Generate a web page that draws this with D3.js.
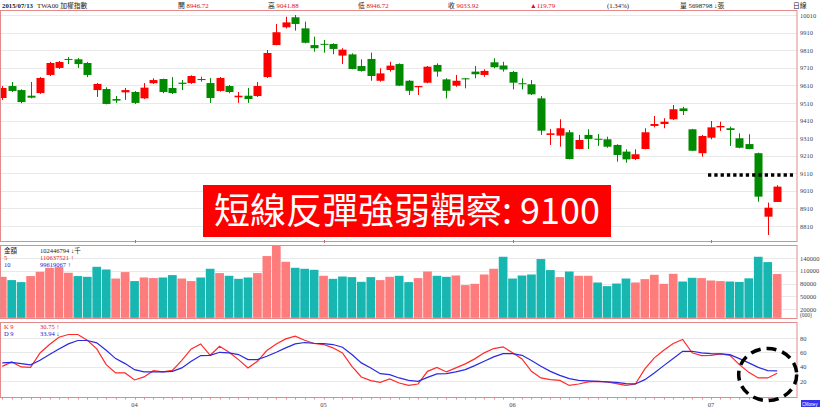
<!DOCTYPE html>
<html><head><meta charset="utf-8">
<script src="https://cdn.jsdelivr.net/npm/d3@7"></script>
<style>body{margin:0;background:#fff}svg{display:block}</style>
</head><body>
<svg id="c" width="820" height="413"></svg>
<script>
// ---------- DATA ----------
const dates = [
 "2015-03-12","2015-03-13","2015-03-16","2015-03-17","2015-03-18","2015-03-19","2015-03-20","2015-03-23","2015-03-24","2015-03-25","2015-03-26","2015-03-27","2015-03-30","2015-03-31",
 "2015-04-01","2015-04-02","2015-04-07","2015-04-08","2015-04-09","2015-04-10","2015-04-13","2015-04-14","2015-04-15","2015-04-16","2015-04-17","2015-04-20","2015-04-21","2015-04-22","2015-04-23","2015-04-24","2015-04-27","2015-04-28","2015-04-29","2015-04-30",
 "2015-05-04","2015-05-05","2015-05-06","2015-05-07","2015-05-08","2015-05-11","2015-05-12","2015-05-13","2015-05-14","2015-05-15","2015-05-18","2015-05-19","2015-05-20","2015-05-21","2015-05-22","2015-05-25","2015-05-26","2015-05-27","2015-05-28","2015-05-29",
 "2015-06-01","2015-06-02","2015-06-03","2015-06-04","2015-06-05","2015-06-08","2015-06-09","2015-06-10","2015-06-11","2015-06-12","2015-06-15","2015-06-16","2015-06-17","2015-06-18","2015-06-22","2015-06-23","2015-06-24","2015-06-25","2015-06-26","2015-06-29","2015-06-30",
 "2015-07-01","2015-07-02","2015-07-03","2015-07-06","2015-07-07","2015-07-08","2015-07-09","2015-07-13"];
const openP  = [9538,9606,9583,9551,9566,9669,9709,9760,9758,9737,9583,9589,9532,9570,9572,9536,9622,9646,9595,9625,9623,9646,9623,9578,9606,9542,9551,9549,9657,9839,9940,9997,9934,9839,9846,9845,9779,9786,9720,9760,9636,9697,9731,9636,9599,9625,9726,9644,9608,9650,9688,9669,9741,9723,9686,9622,9616,9536,9328,9324,9343,9248,9328,9306,9303,9271,9233,9191,9248,9379,9390,9417,9479,9360,9224,9312,9371,9366,9309,9276,9224,8863,8946.72];
const highP  = [9606,9629,9587,9629,9657,9743,9748,9771,9765,9743,9623,9599,9549,9595,9578,9623,9650,9648,9657,9640,9667,9659,9652,9657,9612,9572,9595,9629,9811,9959,10000,10010,9972,9887,9868,9849,9821,9792,9758,9796,9707,9744,9735,9640,9606,9720,9735,9650,9669,9652,9720,9701,9764,9744,9692,9650,9640,9549,9362,9417,9356,9328,9360,9333,9318,9275,9246,9246,9366,9436,9423,9498,9488,9362,9328,9407,9403,9375,9337,9332,9227,8943,9041.88];
const lowP   = [9527,9572,9508,9536,9561,9663,9703,9731,9709,9657,9544,9502,9510,9527,9504,9532,9618,9565,9561,9583,9618,9631,9510,9574,9565,9510,9510,9544,9652,9838,9934,9921,9849,9801,9796,9787,9731,9701,9688,9636,9631,9688,9606,9555,9555,9622,9659,9536,9602,9593,9650,9659,9707,9688,9587,9587,9555,9328,9271,9261,9189,9246,9248,9265,9255,9176,9170,9185,9246,9371,9366,9413,9441,9237,9204,9303,9350,9265,9252,9246,8948,8759,8946.72];
const closeP = [9595,9578,9515,9540,9652,9737,9743,9758,9731,9669,9618,9504,9523,9583,9510,9597,9640,9572,9566,9618,9663,9640,9538,9652,9572,9551,9532,9606,9794,9912,9968,9959,9852,9821,9843,9817,9813,9703,9692,9663,9678,9722,9608,9579,9606,9716,9688,9579,9636,9644,9673,9692,9713,9700,9625,9616,9559,9352,9337,9366,9191,9299,9305,9302,9261,9214,9189,9218,9343,9390,9403,9474,9464,9238,9322,9371,9379,9356,9255,9248,8977,8914.13,9033.92];
// trading value, millions
const volume = [96000,88300,83600,97700,107700,117100,118700,105400,97700,96000,119400,113100,92000,107000,86000,94400,93000,94400,100000,92000,86000,94400,114800,104700,98400,91300,94400,104700,144500,170300,131200,117100,114800,112400,98400,91300,96700,95300,84300,95300,88300,96000,98400,83600,93000,108400,98400,96000,99100,76600,79600,101400,114800,142900,92000,99100,101400,137500,111700,95300,108400,98400,98400,82700,74200,80300,92000,82700,90600,100700,79600,103000,85000,93700,93000,87400,86000,85000,84000,92500,142900,130400,102447];
const kValues = [40.4,46.5,39.6,39.0,59.0,70.8,81.0,84.8,84.8,76.8,64.7,42.8,31.2,31.2,21.4,25.6,34.4,32.6,34.8,48.8,64.7,71.7,55.8,68.4,60.0,49.8,38.2,47.4,62.4,71.7,78.7,82.4,76.8,72.2,70.8,66.2,59.2,40.4,25.6,20.4,18.0,22.8,17.2,13.8,15.8,33.4,39.0,32.6,38.2,43.8,50.8,59.2,65.2,67.6,59.2,50.8,33.4,24.2,21.8,20.8,13.8,15.8,18.6,19.4,18.6,16.2,13.8,15.8,36.8,52.2,62.8,72.2,77.8,59.2,55.4,55.8,57.8,55.8,42.8,32.0,24.2,24.2,30.75];
const dValues = [45.2,46.0,44.3,42.5,48.8,56.8,64.7,71.7,76.4,76.4,73.1,62.8,51.2,44.2,35.8,32.6,32.6,32.6,33.4,38.2,47.4,55.4,55.8,60.0,59.2,56.8,49.8,49.8,54.4,60.0,66.2,71.7,73.6,72.6,72.2,70.8,67.0,56.8,45.2,38.2,30.2,28.8,24.2,20.8,19.4,25.0,29.8,30.2,32.6,35.8,41.4,47.4,53.6,58.2,58.2,55.8,48.4,40.4,33.4,27.8,23.2,20.8,20.0,19.4,18.6,18.0,16.2,15.8,21.8,31.2,41.4,51.2,61.4,61.4,59.2,58.2,57.8,56.8,51.2,45.2,39.0,34.4,33.94];
const priceTicks = [10010,9910,9810,9710,9610,9510,9410,9310,9210,9110,9010,8910,8810];
const volTicks = [140000,110000,80000,50000,20000];
const kdTicks = [80,60,40,20];
const supportLevel = 9100;
const headerItems = [
 {x:2,   label:"2015/07/13", value:"", bold:true},
 {x:37,  label:"TWA00 加權指數", value:""},
 {x:178, label:"開 ", value:"8946.72"},
 {x:268, label:"高 ", value:"9041.88"},
 {x:358, label:"低 ", value:"8946.72"},
 {x:448, label:"收 ", value:"9033.92"},
 {x:530, label:"", value:"▲119.79"},
 {x:607, label:"(1.34%)", value:""},
 {x:680, label:"量 5698798 ↓張", value:""},
 {x:793, label:"日線", value:""}
];
const volLegend = [["金額","102446794 ↓千","#222"],["5","110637521 ↑","#e02020"],["10","99619067 ↑","#2020d0"]];
const kdLegend = [["K 9","30.75 ↑","#e02020"],["D 9","33.94 ↓","#2020d0"]];

// ---------- LAYOUT ----------
const svg = d3.select("#c");
const R = 797;
const main = {top:10, bottom:241}, vol = {top:245, bottom:318}, kd = {top:322, bottom:397};
const FONT = "'Liberation Serif','Noto Sans CJK TC',serif";
const border = "#e58a8a", grid = "#e9e9e9";
const upC = "#ff0000", dnC = "#008a00", volUp = "#ff7c7c", volDn = "#17b6b1";

const step = 9.45;
const x = d3.scaleBand().domain(dates).range([-2.475, -2.475 + step*dates.length]).padding(0);
const cx = d => x(d) + x.bandwidth()/2;
const yP = d3.scaleLinear().domain([8810,10010]).range([226,15]);
const yV = d3.scaleLinear().domain([0,140000]).range([317.85,258]);
const yK = d3.scaleLinear().domain([0,100]).range([395.3,323.6]);

svg.append("rect").attr("width",820).attr("height",413).attr("fill","#fff");

// clip paths
const defs = svg.append("defs");
[["cm",main],["cv",vol],["ck",kd]].forEach(([id,p])=>{
  defs.append("clipPath").attr("id",id).append("rect")
   .attr("x",0).attr("y",p.top).attr("width",R).attr("height",p.bottom-p.top);
});

// grids
function gridLines(ticks, scale){
  svg.append("g").selectAll("line").data(ticks).join("line")
   .attr("x1",0.5).attr("x2",R).attr("y1",d=>Math.round(scale(d))+0.5).attr("y2",d=>Math.round(scale(d))+0.5)
   .attr("stroke",grid).attr("stroke-width",1);
}
gridLines(priceTicks,yP); gridLines(volTicks,yV); gridLines(kdTicks,yK);

// right axes
function rightAxis(scale, ticks, fmt){
  const g = svg.append("g").attr("transform",`translate(${R},0)`)
    .call(d3.axisRight(scale).tickValues(ticks).tickSize(0).tickPadding(3).tickFormat(fmt));
  g.select(".domain").remove();
  g.selectAll("text").attr("font-family",FONT).attr("font-size",6.5).attr("fill","#444");
}
rightAxis(yP, priceTicks, d3.format("d"));
rightAxis(yV, volTicks, d3.format("d"));
rightAxis(yK, kdTicks, d3.format("d"));
svg.append("text").attr("x",R+3).attr("y",316.5).attr("font-family",FONT).attr("font-size",5.5).attr("fill","#444").text("(000)");

// candles
const data = dates.map((d,i)=>({d,o:openP[i],h:highP[i],l:lowP[i],c:closeP[i],v:volume[i],
  up: closeP[i]>=openP[i], vup: i===0 ? closeP[i]>=openP[i] : closeP[i]>=closeP[i-1]}));
const gc = svg.append("g").attr("clip-path","url(#cm)");
gc.selectAll("line.w").data(data).join("line").attr("class","w")
 .attr("x1",d=>Math.round(cx(d.d))+0.5).attr("x2",d=>Math.round(cx(d.d))+0.5)
 .attr("y1",d=>yP(d.h)).attr("y2",d=>yP(d.l))
 .attr("stroke",d=>d.up?upC:dnC).attr("stroke-width",1);
gc.selectAll("rect.b").data(data).join("rect").attr("class","b")
 .attr("x",d=>Math.round(cx(d.d))+0.5-4).attr("width",8)
 .attr("y",d=>yP(Math.max(d.o,d.c)))
 .attr("height",d=>Math.max(1,Math.abs(yP(d.o)-yP(d.c))))
 .attr("fill",d=>d.up?upC:dnC);

// volume
svg.append("g").attr("clip-path","url(#cv)").selectAll("rect").data(data).join("rect")
 .attr("x",d=>cx(d.d)-4.35).attr("width",8.7)
 .attr("y",d=>yV(d.v)).attr("height",d=>yV(0)-yV(d.v))
 .attr("fill",d=>d.vup?volUp:volDn);

// KD lines
const gk = svg.append("g").attr("clip-path","url(#ck)");
const line = arr => d3.line().x((v,i)=>cx(dates[i])).y(v=>yK(v))(arr);
gk.append("path").attr("d",line(kValues)).attr("fill","none").attr("stroke","#ff2a2a").attr("stroke-width",1.2);
gk.append("path").attr("d",line(dValues)).attr("fill","none").attr("stroke","#2a2ae0").attr("stroke-width",1.2);

// panel borders
[main,vol,kd].forEach(p=>{
  svg.append("rect").attr("x",0.5).attr("y",p.top+0.5).attr("width",R-0.5).attr("height",p.bottom-p.top)
   .attr("fill","none").attr("stroke",border).attr("stroke-width",1);
});

// x ticks (every day below KD) and month labels
svg.append("g").selectAll("line").data(dates).join("line")
 .attr("x1",d=>Math.round(cx(d))+0.5).attr("x2",d=>Math.round(cx(d))+0.5)
 .attr("y1",kd.bottom+0.5).attr("y2",kd.bottom+2.5).attr("stroke",border);
const monthStarts = dates.filter((d,i)=> i>0 && d.slice(5,7)!==dates[i-1].slice(5,7));
svg.append("g").selectAll("text").data(monthStarts).join("text")
 .attr("x",d=>cx(d)).attr("y",407).attr("text-anchor","middle")
 .attr("font-family",FONT).attr("font-size",6.5).attr("fill","#444").text(d=>d.slice(5,7));
svg.append("g").selectAll("line").data(monthStarts).join("line")
 .attr("x1",d=>Math.round(cx(d))+0.5).attr("x2",d=>Math.round(cx(d))+0.5)
 .attr("y1",main.bottom-1).attr("y2",main.bottom+2).attr("stroke","#b07070");

// header
const hg = svg.append("g").attr("font-family",FONT).attr("font-size",6.8);
headerItems.forEach(h=>{
  const t = hg.append("text").attr("x",h.x).attr("y",7.5);
  if(h.label) t.append("tspan").attr("fill","#222").attr("font-weight",h.bold?"bold":"normal").text(h.label);
  if(h.value) t.append("tspan").attr("fill","#e01010").text(h.value);
});

// legends
function legend(items, y0){
  items.forEach((it,i)=>{
    svg.append("text").attr("x",4).attr("y",y0+i*7.3).attr("font-family",FONT).attr("font-size",6.5).attr("fill",it[2]).text(it[0]);
    svg.append("text").attr("x",40).attr("y",y0+i*7.3).attr("font-family",FONT).attr("font-size",6.5).attr("fill",it[2]).text(it[1]);
  });
}
legend(volLegend, 252.5);
legend(kdLegend, 328.5);

// annotations
svg.append("line").attr("x1",cx(dates[75])-3).attr("x2",R-4)
 .attr("y1",yP(supportLevel)).attr("y2",yP(supportLevel))
 .attr("stroke","#000").attr("stroke-width",3.3).attr("stroke-dasharray","3.3,3");
svg.append("rect").attr("x",203).attr("y",185).attr("width",408).attr("height",52).attr("fill","#ff0000");
svg.append("text").attr("x",407).attr("y",224).attr("text-anchor","middle")
 .attr("font-family","'Noto Sans CJK TC','Noto Sans',sans-serif").attr("font-size",36).attr("fill","#fff")
 .text("短線反彈強弱觀察: "+supportLevel);
svg.append("ellipse").attr("cx",cx(dates[81])).attr("cy",yK(29)).attr("rx",29).attr("ry",26)
 .attr("fill","none").attr("stroke","#000").attr("stroke-width",3.5).attr("stroke-dasharray","10,6");
svg.append("rect").attr("x",801).attr("y",400).attr("width",19).attr("height",7).attr("fill","#3434f0");
svg.append("text").attr("x",802).attr("y",405.8).attr("font-family","'Liberation Sans',sans-serif").attr("font-size",5)
 .attr("textLength",15.5).attr("lengthAdjust","spacingAndGlyphs").attr("fill","#fff").text("CMoney");
</script>
</body></html>
